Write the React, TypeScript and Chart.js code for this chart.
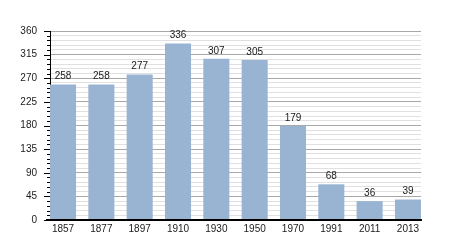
import React, { useEffect, useRef } from "react";
import { Chart, registerables } from "chart.js";

Chart.register(...registerables);

const years = ["1857", "1877", "1897", "1910", "1930", "1950", "1970", "1991", "2011", "2013"];
const population = [258, 258, 277, 336, 307, 305, 179, 68, 36, 39];
const yMax = 360;
const majorStep = 45;
const minorStep = 9;

const FONT = "'Liberation Sans', Arial, sans-serif";

const tickPlugin = {
  id: "minorTicks",
  afterDraw(chart: any) {
    const ctx = chart.ctx;
    const ys = chart.scales.y;
    const { left, right } = chart.chartArea;
    ctx.save();
    ctx.strokeStyle = "#000";
    ctx.lineWidth = 1;
    for (let v = 0; v <= yMax; v += minorStep) {
      const py = Math.round(ys.getPixelForValue(v)) + 0.5;
      const len = v % majorStep === 0 ? 6 : 3;
      ctx.beginPath();
      ctx.moveTo(left - len, py);
      ctx.lineTo(left, py);
      ctx.stroke();
    }
    const by = Math.round(ys.getPixelForValue(0));
    ctx.lineWidth = 2;
    ctx.beginPath();
    ctx.moveTo(left - 4, by);
    ctx.lineTo(right, by);
    ctx.stroke();
    ctx.restore();
  },
};

const labelPlugin = {
  id: "barLabels",
  afterDatasetsDraw(chart: any) {
    const ctx = chart.ctx;
    const meta = chart.getDatasetMeta(0);
    ctx.save();
    ctx.font = `10px ${FONT}`;
    ctx.fillStyle = "#1a1a1a";
    ctx.textAlign = "center";
    ctx.textBaseline = "bottom";
    meta.data.forEach((bar: any, i: number) => {
      ctx.fillText(String(population[i]), bar.x, bar.y - 3);
    });
    ctx.restore();
  },
};

export default function App() {
  const ref = useRef<HTMLCanvasElement>(null);
  useEffect(() => {
    if (!ref.current) return;
    const chart = new Chart(ref.current, {
      type: "bar",
      data: {
        datasets: [
          {
            data: population.map((v, i) => ({ x: i, y: v })),
            backgroundColor: "rgb(153,180,210)",
            borderWidth: 0,
            barPercentage: 0.68,
            categoryPercentage: 1,
          },
        ],
      },
      options: {
        responsive: false,
        animation: false,
        layout: { padding: { top: 31, right: 29, left: 0, bottom: 0 } },
        plugins: { legend: { display: false }, tooltip: { enabled: false } },
        scales: {
          x: {
            type: "linear",
            offset: false,
            min: -0.34,
            max: 9.34,
            afterBuildTicks: (scale: any) => {
              scale.ticks = years.map((_, i) => ({ value: i }));
            },
            afterFit: (scale: any) => {
              scale.height = 30;
            },
            ticks: {
              autoSkip: false,
              maxRotation: 0,
              padding: 3,
              color: "#1a1a1a",
              font: { family: FONT, size: 10 },
              callback: (v: any) => years[v] ?? "",
            },
            grid: { display: false, drawTicks: false, offset: false },
            border: { display: true, color: "#000", width: 2 },
          },
          y: {
            min: 0,
            max: yMax,
            afterBuildTicks: (scale: any) => {
              const t = [];
              for (let v = 0; v <= yMax; v += minorStep) t.push({ value: v });
              scale.ticks = t;
            },
            afterFit: (scale: any) => {
              scale.width = 50;
            },
            ticks: {
              stepSize: minorStep,
              autoSkip: false,
              padding: 13,
              color: "#1a1a1a",
              font: { family: FONT, size: 10 },
              callback: (v: any) => (v % majorStep === 0 ? String(v) : ""),
            },
            grid: {
              drawTicks: false,
              color: (c: any) => (c.tick && c.tick.value % majorStep === 0 ? "#a8a8a8" : "#e0e0e0"),
              lineWidth: 1,
            },
            border: { display: true, color: "#000", width: 1 },
          },
        },
      },
      plugins: [tickPlugin, labelPlugin],
    });
    return () => chart.destroy();
  }, []);
  return (
    <div style={{ position: "fixed", left: 0, top: 0, width: 450, height: 250, background: "#fff" }}>
      <canvas ref={ref} width={450} height={250} />
    </div>
  );
}
